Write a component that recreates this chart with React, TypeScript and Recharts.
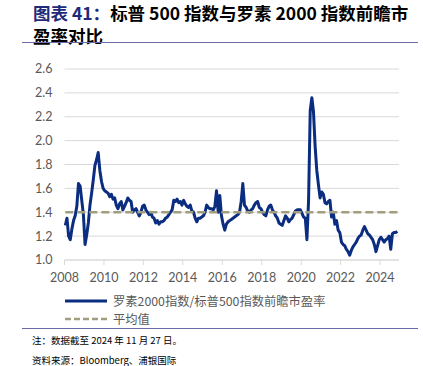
import { LineChart, Line, XAxis, YAxis, CartesianGrid } from 'recharts';

// Russell 2000 / S&P 500 forward P/E ratio, monthly, Jan 2008 - Nov 2024
const pe2008 = [1.29, 1.35, 1.2, 1.17, 1.26, 1.33, 1.37, 1.45, 1.64, 1.62, 1.5, 1.38];
const pe2009 = [1.13, 1.21, 1.31, 1.46, 1.56, 1.67, 1.79, 1.84, 1.9, 1.75, 1.66, 1.6];
const pe2010 = [1.58, 1.57, 1.56, 1.53, 1.55, 1.51, 1.52, 1.46, 1.43, 1.47, 1.49, 1.42];
const pe2011 = [1.45, 1.48, 1.52, 1.5, 1.49, 1.4, 1.42, 1.43, 1.4, 1.37, 1.4, 1.45];
const pe2012 = [1.46, 1.42, 1.4, 1.38, 1.4, 1.36, 1.35, 1.31, 1.33, 1.3, 1.32, 1.32];
const pe2013 = [1.33, 1.35, 1.36, 1.38, 1.4, 1.42, 1.5, 1.49, 1.51, 1.48, 1.49, 1.46];
const pe2014 = [1.5, 1.47, 1.45, 1.44, 1.46, 1.41, 1.4, 1.35, 1.32, 1.35, 1.35, 1.36];
const pe2015 = [1.37, 1.4, 1.46, 1.44, 1.43, 1.43, 1.42, 1.45, 1.58, 1.4, 1.54, 1.37];
const pe2016 = [1.3, 1.25, 1.3, 1.32, 1.33, 1.34, 1.35, 1.36, 1.37, 1.38, 1.4, 1.49];
const pe2017 = [1.64, 1.46, 1.44, 1.41, 1.4, 1.42, 1.43, 1.46, 1.48, 1.49, 1.44, 1.43];
const pe2018 = [1.4, 1.38, 1.37, 1.42, 1.45, 1.46, 1.42, 1.4, 1.37, 1.35, 1.31, 1.3];
const pe2019 = [1.29, 1.33, 1.37, 1.35, 1.32, 1.34, 1.35, 1.38, 1.41, 1.42, 1.42, 1.42];
const pe2020 = [1.39, 1.36, 1.35, 1.17, 1.5, 2.25, 2.36, 2.24, 1.95, 1.75, 1.63, 1.52];
const pe2021 = [1.57, 1.55, 1.48, 1.47, 1.49, 1.5, 1.36, 1.4, 1.3, 1.33, 1.25, 1.23];
const pe2022 = [1.15, 1.13, 1.12, 1.09, 1.07, 1.04, 1.08, 1.11, 1.13, 1.15, 1.18, 1.2];
const pe2023 = [1.21, 1.25, 1.28, 1.25, 1.22, 1.21, 1.19, 1.17, 1.13, 1.07, 1.12, 1.17];
const pe2024 = [1.19, 1.17, 1.15, 1.17, 1.18, 1.2, 1.09, 1.22, 1.23, 1.23, 1.24];

const startYear = 2008;
const peByYear = [
  pe2008, pe2009, pe2010, pe2011, pe2012, pe2013, pe2014, pe2015, pe2016,
  pe2017, pe2018, pe2019, pe2020, pe2021, pe2022, pe2023, pe2024,
];
const avgPE = 1.4;

const xTicks = [2008, 2010, 2012, 2014, 2016, 2018, 2020, 2022, 2024];
const yTicks = [1.0, 1.2, 1.4, 1.6, 1.8, 2.0, 2.2, 2.4, 2.6];

const seriesName = '罗素2000指数/标普500指数前瞻市盈率';
const avgName = '平均值';

const data = peByYear.flatMap((vals, i) =>
  vals.map((v, m) => ({ t: startYear + i + (m + 0.5) / 12, ratio: v, avg: avgPE }))
);

const navy = '#0B2D80';
const olive = '#A19E7F';
const gray = '#595959';
const cjk = '"Noto Sans CJK SC", sans-serif';

export default function App() {
  return (
    <div style={{ position: 'absolute', left: 0, top: 0, width: 423, height: 366, background: '#fff', fontFamily: cjk }}>
      <div style={{ position: 'absolute', left: 33, top: 1, fontSize: 17.5, fontWeight: 700, lineHeight: '23px', color: '#000', whiteSpace: 'nowrap' }}>
        <div><span style={{ color: '#1F2A78' }}>图表 41：</span>标普 500 指数与罗素 2000 指数前瞻市</div>
        <div>盈率对比</div>
      </div>
      <div style={{ position: 'absolute', left: 22, top: 42, width: 396, height: 1, background: '#6B6BA8' }} />

      <div style={{ position: 'absolute', left: 0, top: 0 }}>
        <LineChart width={423} height={290} data={data} margin={{ top: 69, right: 24, left: 24.5, bottom: 5 }}>
          <CartesianGrid vertical={false} stroke="#d9d9d9" />
          <XAxis
            dataKey="t"
            type="number"
            domain={[2008, 2024.96]}
            ticks={xTicks}
            tickSize={5}
            tickMargin={8}
            height={25}
            stroke="#d9d9d9"
            tick={{ fill: gray, fontSize: 12.5, fontFamily: 'Lato, sans-serif' }}
          />
          <YAxis
            type="number"
            domain={[1.0, 2.6]}
            ticks={yTicks}
            width={40}
            axisLine={false}
            tickLine={false}
            tickSize={6}
            tickMargin={6}
            tickFormatter={(v: number) => v.toFixed(1)}
            tick={{ fill: gray, fontSize: 12.5, fontFamily: 'Lato, sans-serif' }}
          />
          <Line dataKey="ratio" stroke={navy} strokeWidth={3} dot={false} isAnimationActive={false} strokeLinejoin="round" />
          <Line dataKey="avg" stroke={olive} strokeWidth={2.5} strokeDasharray="8 4" dot={false} isAnimationActive={false} />
        </LineChart>
      </div>

      <div style={{ position: 'absolute', left: 65, top: 292, fontSize: 12.3, color: gray }}>
        <div style={{ display: 'flex', alignItems: 'center', height: 18 }}>
          <svg width={44} height={18}><line x1={0} y1={9} x2={42} y2={9} stroke={navy} strokeWidth={3} /></svg>
          <span style={{ marginLeft: 4, lineHeight: '18px' }}>{seriesName}</span>
        </div>
        <div style={{ display: 'flex', alignItems: 'center', height: 18 }}>
          <svg width={44} height={18}><line x1={0} y1={9} x2={42} y2={9} stroke={olive} strokeWidth={2.5} strokeDasharray="6 3" /></svg>
          <span style={{ marginLeft: 4, lineHeight: '18px' }}>{avgName}</span>
        </div>
      </div>

      <div style={{ position: 'absolute', left: 22, top: 328, width: 396, height: 1, background: '#6B6BA8' }} />
      <div style={{ position: 'absolute', left: 32, top: 333, fontSize: 9.5, color: '#000', whiteSpace: 'nowrap' }}>
        注：数据截至 2024 年 11 月 27 日。
      </div>
      <div style={{ position: 'absolute', left: 32, top: 353, fontSize: 9.5, color: '#000', whiteSpace: 'nowrap' }}>
        资料来源：Bloomberg、浦银国际
      </div>
    </div>
  );
}
